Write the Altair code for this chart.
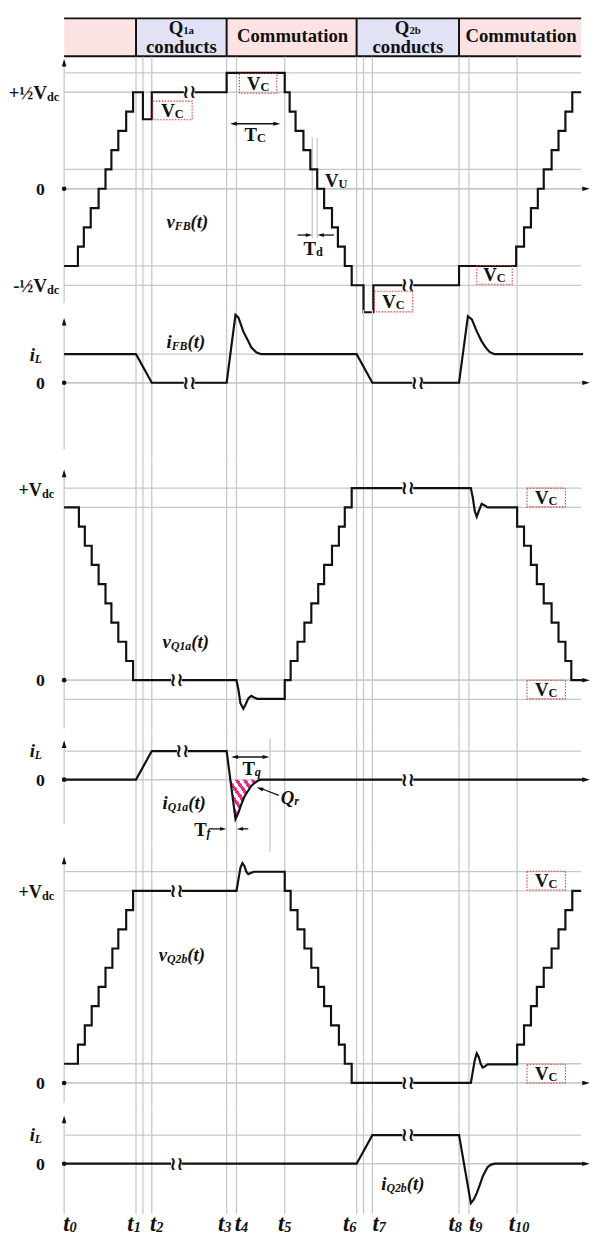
import altair as alt
import pandas as pd

SERIF = "Liberation Serif"
BLACK = "#111111"
GRID = "#c8c8c8"
RED = "#e53935"
PINK_BG = "#fce3e3"
LAV_BG = "#e2e2f6"
HATCH = "#e8308a"

# ---------------- data (time: t0 = 0, levels in per-step units) ----------------
EVENT_T = [73, 80, 89, 165, 175, 224, 297, 304, 313, 401, 411, 460]
T_SUBS = ["0", "1", "2", "3", "4", "5", "6", "7", "8", "9", "10"]
T_LABEL_AT = [6, 71, 94, 163, 180, 224, 290, 320, 397, 418, 462]
T_END = 525

HEADER_START = [0, 73, 165, 297, 401]
HEADER_END = [73, 165, 297, 401, 525]
HEADER_KIND = ["comm", "cond", "comm", "cond", "comm"]
HEADER_TEXT = ["", "Q|1a|conducts", "Commutation", "Q|2b|conducts", "Commutation"]

S = "step"  # ("step", t, new_level) = vertical edge at t

VFB = [(0, -4), (S, 14, -3), (S, 20, -2), (S, 27, -1), (S, 35, 0), (S, 42, 1), (S, 48, 2),
       (S, 55, 3), (S, 63, 4), (S, 70, 5), (S, 80, 3.6), (S, 89, 5), (S, 165, 6), (S, 224, 5),
       (S, 229, 4), (S, 235, 3), (S, 243, 2), (S, 250, 1), (S, 257, 0), (S, 264, -1), (S, 272, -2),
       (S, 278, -3), (S, 285, -4), (S, 292, -5), (S, 304, -6.4), (S, 314, -5), (S, 401, -4),
       (S, 459, -3), (S, 467, -2), (S, 474, -1), (S, 481, 0), (S, 487, 1), (S, 495, 2),
       (S, 502, 3), (S, 509, 4), (S, 516, 5), (525, 5)]

IFB = [(0, 1), (73, 1), (89, 0), (165, 0), (174, 2.38), (177, 2.28), (182, 1.79), (187, 1.45),
       (190, 1.24), (195, 1.07), (200, 1), (297, 1), (313, 0), (401, 0), (410, 2.33), (414, 2.22),
       (419, 1.8), (424, 1.45), (428, 1.24), (432, 1.08), (437, 1), (527, 1)]

VQ1A = [(0, 9), (S, 15, 8), (S, 21, 7), (S, 28, 6), (S, 35, 5), (S, 42, 4), (S, 48, 3), (S, 55, 2),
        (S, 63, 1), (S, 70, 0), (175, 0), (177, -0.5), (179, -1.2), (182, -1.49), (184, -1.3),
        (187, -0.95), (190, -0.82), (193, -0.9), (196, -0.97), (S, 224, 0), (S, 230, 1), (S, 237, 2),
        (S, 244, 3), (S, 251, 4), (S, 258, 5), (S, 264, 6), (S, 272, 7), (S, 279, 8), (S, 285, 9),
        (S, 292, 10), (413, 10), (415, 9.5), (417, 8.8), (419, 8.51), (421, 8.8), (424, 9.18),
        (427, 9.1), (430, 9.0), (S, 460, 8), (S, 467, 7), (S, 474, 6), (S, 480, 5), (S, 487, 4),
        (S, 495, 3), (S, 502, 2), (S, 509, 1), (S, 515, 0), (528, 0)]

IQ1A = [(0, 0), (73, 0), (89, 1), (165, 1), (174, -1.38), (177, -1.15), (180, -0.86), (183, -0.6),
        (187, -0.38), (190, -0.22), (194, -0.1), (197, -0.03), (200, 0), (528, 0)]

VQ2B = [(0, 1), (S, 14, 2), (S, 21, 3), (S, 28, 4), (S, 35, 5), (S, 42, 6), (S, 49, 7), (S, 55, 8),
        (S, 63, 9), (S, 70, 10), (175, 10), (177, 10.6), (179, 11.2), (181, 11.45), (183, 11.3),
        (185, 11.0), (187, 10.87), (190, 10.95), (193, 11), (S, 224, 10), (S, 230, 9), (S, 237, 8),
        (S, 244, 7), (S, 251, 6), (S, 258, 5), (S, 264, 4), (S, 271, 3), (S, 279, 2), (S, 285, 1),
        (S, 292, 0), (413, 0), (415, 0.6), (417, 1.2), (419, 1.54), (421, 1.35), (423, 1.0),
        (425, 0.8), (427, 0.85), (430, 0.97), (S, 460, 2), (S, 467, 3), (S, 474, 4), (S, 480, 5),
        (S, 487, 6), (S, 495, 7), (S, 502, 8), (S, 509, 9), (S, 516, 10), (525, 10)]

IQ2B = [(0, 0), (297, 0), (313, 1), (401, 1), (413, -1.38), (416, -1.25), (419, -1.03), (422, -0.75),
        (425, -0.45), (428, -0.25), (430, -0.12), (433, -0.04), (437, 0), (528, 0)]


def expand(seq):
    pts = []
    for item in seq:
        if item[0] == S:
            _, t, v = item
            pts.append((t, pts[-1][1]))
            pts.append((t, v))
        else:
            pts.append(item)
    return pts


# ---------------- helpers ----------------
XSC = alt.Scale(domain=[-55, 535], nice=False, zero=False)
WIDTH = 590

W_UP = {'V': .722, 'T': .667, 'Q': .778, 'C': .722, 'U': .722, 'd': .556, 'c': .444, '+': .570,
        '½': .75, '-': .333, '0': .5, '1': .5, '2': .5, 'a': .5, 'b': .556, 'L': .667, 'q': .556,
        'r': .444, 'f': .333, 'o': .5, 'n': .556, 'u': .556, 't': .333, 's': .389, 'm': .833, 'i': .278}
W_IT = {'v': .444, 'i': .278, 't': .278, 'F': .667, 'B': .667, 'Q': .722, 'a': .5, 'b': .5, '(': .333,
        ')': .333, 'L': .611, 'f': .333, 'r': .389, 'q': .5, 'd': .5}


def tw(txt, size, italic):
    tab = W_IT if italic else W_UP
    return sum(tab.get(c, 0.5) for c in txt) * size


def px_t(px):
    return px - 63


UP = "M0,-1L0.6,1L-0.6,1Z"
RIGHT = "M1,0L-1,-0.6L-1,0.6Z"
LEFT = "M-1,0L1,-0.6L1,0.6Z"


class Panel:
    def __init__(s, top, bottom, zero, unit):
        s.top, s.bottom, s.zero, s.unit = top, bottom, zero, unit
        s.h = bottom - top
        s.ysc = alt.Scale(domain=[(zero - bottom) / unit, (zero - top) / unit], nice=False, zero=False)
        s.layers = []

    def v(s, py):
        return (s.zero - py) / s.unit

    def xy(s):
        return dict(x=alt.X('x:Q', scale=XSC, axis=None), y=alt.Y('y:Q', scale=s.ysc, axis=None))

    def seg(s, rows, color=GRID, width=1.3):
        df = pd.DataFrame(rows, columns=['x', 'y', 'x2', 'y2'])
        s.layers.append(alt.Chart(df).mark_rule(color=color, strokeWidth=width)
                        .encode(**s.xy(), x2='x2:Q', y2='y2:Q'))

    def rects(s, rows):
        df = pd.DataFrame(rows, columns=['x', 'y', 'x2', 'y2', 'c'])
        s.layers.append(alt.Chart(df).mark_rect(strokeWidth=0)
                        .encode(**s.xy(), x2='x2:Q', y2='y2:Q', fill=alt.Fill('c:N', scale=None)))

    def boxes(s, rows):
        df = pd.DataFrame(rows, columns=['x', 'y', 'x2', 'y2'])
        s.layers.append(alt.Chart(df).mark_rect(fillOpacity=0, stroke=RED, strokeWidth=1.1,
                                                strokeDash=[1.5, 1.5])
                        .encode(**s.xy(), x2='x2:Q', y2='y2:Q'))

    def wave(s, pts, width=2.2):
        df = pd.DataFrame([(i, x, y) for i, (x, y) in enumerate(pts)], columns=['i', 'x', 'y'])
        s.layers.append(alt.Chart(df).mark_line(color=BLACK, strokeWidth=width)
                        .encode(**s.xy(), order='i:Q'))

    def area(s, pts, fill):
        df = pd.DataFrame([(x, y, 0.0) for x, y in pts], columns=['x', 'y', 'y2'])
        s.layers.append(alt.Chart(df).mark_area(color=fill).encode(**s.xy(), y2='y2:Q'))

    def marks(s, rows, shape, size, color=BLACK, angle=0):
        df = pd.DataFrame(rows, columns=['x', 'y'])
        mk = dict(shape=shape, size=size, filled=True, color=color, opacity=1, strokeWidth=0)
        if angle:
            mk['angle'] = angle
        s.layers.append(alt.Chart(df).mark_point(**mk).encode(**s.xy()))

    def text(s, x, y, txt, size, italic=False, align='left', dy=0, font=SERIF, weight='bold'):
        df = pd.DataFrame([(x, y, txt)], columns=['x', 'y', 's'])
        mk = dict(fontSize=size, font=font, fontWeight=weight, align=align, baseline='middle', color=BLACK)
        if italic:
            mk['fontStyle'] = 'italic'
        if dy:
            mk['dy'] = dy
        s.layers.append(alt.Chart(df).mark_text(**mk).encode(**s.xy(), text='s:N'))

    def label(s, x, y, parts, anchor='left'):
        widths = [tw(t, sz, it) for t, sz, it, dy in parts]
        total = sum(widths)
        if anchor == 'right':
            x -= total
        elif anchor == 'center':
            x -= total / 2
        for (t, sz, it, dy), w in zip(parts, widths):
            s.text(x, y, t, sz, it, dy=dy)
            x += w


def grid(p, levels):
    p.seg([(0, lv, T_END, lv) for lv in levels])


def events(p, bottom_px=None):
    b = p.v(bottom_px if bottom_px else p.bottom)
    p.seg([(t, p.v(p.top), t, b) for t in EVENT_T])


def axes(p, ax_top, ax_bot, tip):
    p.seg([(0, p.v(ax_top), 0, p.v(ax_bot))])
    p.seg([(0, 0, 528, 0)])
    p.marks([(0, p.v(tip + 4))], UP, 60)
    p.marks([(530, 0)], RIGHT, 60)
    p.marks([(0, 0)], 'circle', 22)


def breaks(p, rows):
    p.marks(rows, 'square', 120, color='white')
    for t, lv in rows:
        p.text(t, lv, "≀≀", 19, align='center', font="DejaVu Sans", weight='bold')


def vc_box(p, x0, y0, x1, y1):
    p.boxes([(px_t(x0), p.v(y0), px_t(x1), p.v(y1))])
    p.label(px_t((x0 + x1) / 2), p.v((y0 + y1) / 2 + 0.5), [("V", 19, False, 0), ("C", 12.5, False, 3)], 'center')


def wlabel(p, xpx, ypx, main, sub):
    p.label(px_t(xpx), p.v(ypx), [(main, 19, True, 0), (sub, 12, True, 4), ("(t)", 19, True, 0)])


def iL(p, ypx):
    p.label(px_t(28), p.v(ypx), [("i", 19, True, 0), ("L", 12, True, 4)])


def zero_lbl(p):
    p.text(px_t(39), p.v(p.zero + 1), "0", 18, align='center')


# ---------------- header ----------------
hdr = Panel(8, 48, 48, 1)
hdr.rects([(a, 39, b, 0, PINK_BG if k == "comm" else LAV_BG)
           for a, b, k in zip(HEADER_START, HEADER_END, HEADER_KIND)])
hdr.seg([(0, 39, T_END, 39), (0, 0.5, T_END, 0.5)] + [(t, 0, t, 39) for t in HEADER_START[1:]],
        color=BLACK, width=2)
for a, b, txt in zip(HEADER_START, HEADER_END, HEADER_TEXT):
    c = (a + b) / 2
    if "|" in txt:
        q, sub, word = txt.split("|")
        hdr.label(c, hdr.v(19), [(q, 19, False, 0), (sub, 11, False, 3)], 'center')
        hdr.text(c, hdr.v(38.5), word, 19, align='center')
    elif txt:
        hdr.text(c + 1, hdr.v(26.5), txt, 19, align='center')

# ---------------- vFB ----------------
vfb = Panel(48, 305, 182, 19.6)
grid(vfb, [6, 5, 1, 0, -4, -5])
events(vfb)
axes(vfb, 56, 298, 50)
vfb.seg([(px_t(315), vfb.v(130), px_t(315), vfb.v(232)), (px_t(320), vfb.v(130), px_t(320), vfb.v(232))])
vfb.wave(expand(VFB))
breaks(vfb, [(127, 5), (349, -5)])
vc_box(vfb, 153, 93, 193, 112)
vc_box(vfb, 241, 65, 279, 85)
vc_box(vfb, 378, 286, 417, 307)
vc_box(vfb, 482, 260, 518, 279)
vfb.seg([(px_t(235), vfb.v(116), px_t(279), vfb.v(116))], color=BLACK, width=1.3)
vfb.marks([(px_t(235), vfb.v(116))], LEFT, 49)
vfb.marks([(px_t(279), vfb.v(116))], RIGHT, 49)
vfb.label(px_t(257), vfb.v(128), [("T", 19, False, 0), ("C", 12.5, False, 3)], 'center')
vfb.label(px_t(328), vfb.v(174), [("V", 19, False, 0), ("U", 12.5, False, 3)])
vfb.seg([(px_t(300), vfb.v(229), px_t(312), vfb.v(229)), (px_t(323), vfb.v(229), px_t(337), vfb.v(229))],
        color=BLACK, width=1.3)
vfb.marks([(px_t(311.5), vfb.v(229))], RIGHT, 42)
vfb.marks([(px_t(323.5), vfb.v(229))], LEFT, 42)
vfb.label(px_t(306), vfb.v(243), [("T", 19, False, 0), ("d", 12.5, False, 3)])
wlabel(vfb, 167, 216, "v", "FB")
vfb.label(px_t(58), vfb.v(85), [("+½V", 19, False, 0), ("dc", 12.5, False, 4)], 'right')
vfb.label(px_t(58), vfb.v(281), [("-½V", 19, False, 0), ("dc", 12.5, False, 4)], 'right')
zero_lbl(vfb)

# ---------------- iFB ----------------
ifb = Panel(305, 455, 379, 29)
grid(ifb, [1, 0])
events(ifb)
axes(ifb, 317, 447, 313)
ifb.wave(IFB)
breaks(ifb, [(127, 0), (359, 0)])
wlabel(ifb, 167, 338, "i", "FB")
iL(ifb, 351)
zero_lbl(ifb)

# ---------------- vQ1a ----------------
vq1 = Panel(455, 735, 681, 19.5)
grid(vq1, [10, 9, 0, -1])
events(vq1)
axes(vq1, 471, 730, 467)
vq1.wave(expand(VQ1A))
breaks(vq1, [(114, 0), (349, 10)])
vc_box(vq1, 533, 486, 572, 505)
vc_box(vq1, 533, 681, 572, 700)
wlabel(vq1, 163, 642, "v", "Q1a")
vq1.label(px_t(53), vq1.v(488), [("+V", 18.5, False, 0), ("dc", 12.5, False, 4)], 'right')
zero_lbl(vq1)

# ---------------- iQ1a ----------------
iq1 = Panel(735, 845, 782, 29)
grid(iq1, [1, 0])
events(iq1)
axes(iq1, 746, 827, 742)
iq1.seg([(px_t(272), iq1.v(740), px_t(272), iq1.v(855))])
stops = []
NS = 7
for k in range(NS):
    a, b, c = k / NS, (k + 0.5) / NS, (k + 1) / NS
    stops += [alt.GradientStop(color=HATCH, offset=a), alt.GradientStop(color=HATCH, offset=b),
              alt.GradientStop(color="white", offset=b), alt.GradientStop(color="white", offset=c)]
hatch = alt.LinearGradient(gradient='linear', stops=stops, x1=0, y1=1, x2=1, y2=0)
a0, a1 = IQ1A[3], IQ1A[4]
cross = a0[0] + (a1[0] - a0[0]) * a0[1] / (a0[1] - a1[1])
iq1.area([(cross, 0)] + [p for p in IQ1A if cross < p[0] <= 197], hatch)
iq1.wave(IQ1A)
breaks(iq1, [(120, 1), (349, 0)])
iq1.seg([(px_t(236), iq1.v(759), px_t(268), iq1.v(759))], color=BLACK, width=1.3)
iq1.marks([(px_t(236), iq1.v(759))], LEFT, 49)
iq1.marks([(px_t(268), iq1.v(759))], RIGHT, 49)
iq1.label(px_t(244), iq1.v(771), [("T", 19, False, 0), ("q", 12.5, True, 3)])
iq1.label(px_t(283), iq1.v(801), [("Q", 19, True, 0), ("r", 12.5, True, 3)])
iq1.seg([(px_t(281), iq1.v(798), px_t(263), iq1.v(791))], color=BLACK, width=1.3)
iq1.marks([(px_t(261.7), iq1.v(790.9))], LEFT, 49, angle=21)
iq1.label(px_t(195), iq1.v(833), [("T", 19, False, 0), ("f", 12.5, True, 3)])
iq1.seg([(px_t(212), iq1.v(832), px_t(224), iq1.v(832)), (px_t(242), iq1.v(832), px_t(250), iq1.v(832))],
        color=BLACK, width=1.3)
iq1.marks([(px_t(224.5), iq1.v(832))], RIGHT, 42)
iq1.marks([(px_t(241.5), iq1.v(832))], LEFT, 42)
wlabel(iq1, 163, 806, "i", "Q1a")
iL(iq1, 753)
zero_lbl(iq1)

# ---------------- vQ2b ----------------
vq2 = Panel(845, 1115, 1090, 19.5)
grid(vq2, [11, 10, 1, 0])
events(vq2)
axes(vq2, 864, 1110, 860)
vq2.wave(expand(VQ2B))
breaks(vq2, [(114, 10), (349, 0)])
vc_box(vq2, 533, 875, 572, 894)
vc_box(vq2, 533, 1071, 572, 1090)
wlabel(vq2, 159, 960, "v", "Q2b")
vq2.label(px_t(53), vq2.v(896), [("+V", 18.5, False, 0), ("dc", 12.5, False, 4)], 'right')
zero_lbl(vq2)

# ---------------- iQ2b ----------------
iq2 = Panel(1115, 1242, 1172, 29)
grid(iq2, [1, 0])
events(iq2, 1223)
axes(iq2, 1127, 1223, 1123)
iq2.wave(IQ2B)
breaks(iq2, [(114, 0), (349, 1)])
wlabel(iq2, 385, 1193, "i", "Q2b")
iL(iq2, 1143)
zero_lbl(iq2)
for sub, at in zip(T_SUBS, T_LABEL_AT):
    iq2.label(at, iq2.v(1233), [("t", 23, True, 0), (sub, 14.5, True, 4)], 'center')

panels = [hdr, vfb, ifb, vq1, iq1, vq2, iq2]
chart = alt.vconcat(
    *[alt.layer(*p.layers).properties(width=WIDTH, height=p.h) for p in panels],
    spacing=0, bounds='flush'
).properties(padding=0, background='white').configure_view(stroke=None)

chart.save("out.html", embed_options={"renderer": "svg", "actions": False})
